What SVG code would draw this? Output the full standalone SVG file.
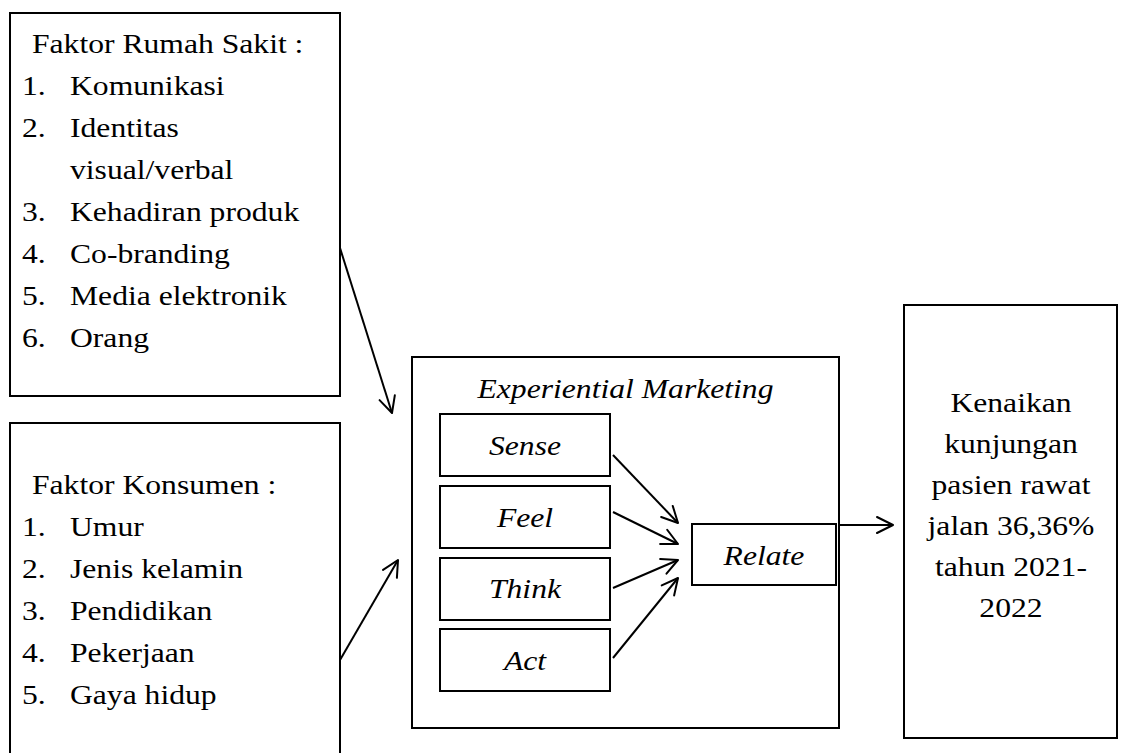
<svg xmlns="http://www.w3.org/2000/svg" width="1122" height="753" viewBox="0 0 1122 753">
<style>
.box{fill:#fff;stroke:#000;stroke-width:2}
.t{font-family:"Liberation Serif","Times New Roman",serif;font-size:28px;fill:#000}
.i{font-style:italic}
.m{text-anchor:middle}
.c{fill:none;stroke:#000;stroke-width:2;marker-end:url(#ah)}
</style>
<defs>
<marker id="ah" markerUnits="userSpaceOnUse" markerWidth="20" markerHeight="20" viewBox="0 0 20 20" refX="18" refY="10" orient="auto">
<path d="M2,2 L18,10 L2,18" fill="none" stroke="#000" stroke-width="2" stroke-linejoin="round" stroke-linecap="round"/>
</marker>
</defs>
<rect width="1122" height="753" fill="#fff"/>
<g id="faktor-rumah-sakit">
<rect class="box" x="10" y="13" width="330" height="383"/>
<g transform="scale(1.13,1)">
<text class="t" x="28.32" y="53">Faktor Rumah Sakit :</text>
<text class="t" x="19.47" y="95">1.</text><text class="t" x="61.95" y="95">Komunikasi</text>
<text class="t" x="19.47" y="137">2.</text><text class="t" x="61.95" y="137">Identitas</text>
<text class="t" x="61.95" y="179">visual/verbal</text>
<text class="t" x="19.47" y="221">3.</text><text class="t" x="61.95" y="221">Kehadiran produk</text>
<text class="t" x="19.47" y="263">4.</text><text class="t" x="61.95" y="263">Co-branding</text>
<text class="t" x="19.47" y="305">5.</text><text class="t" x="61.95" y="305">Media elektronik</text>
<text class="t" x="19.47" y="347">6.</text><text class="t" x="61.95" y="347">Orang</text>
</g>
</g>
<g id="faktor-konsumen">
<rect class="box" x="10" y="423" width="330" height="340"/>
<g transform="scale(1.13,1)">
<text class="t" x="28.32" y="494">Faktor Konsumen :</text>
<text class="t" x="19.47" y="536">1.</text><text class="t" x="61.95" y="536">Umur</text>
<text class="t" x="19.47" y="578">2.</text><text class="t" x="61.95" y="578">Jenis kelamin</text>
<text class="t" x="19.47" y="620">3.</text><text class="t" x="61.95" y="620">Pendidikan</text>
<text class="t" x="19.47" y="662">4.</text><text class="t" x="61.95" y="662">Pekerjaan</text>
<text class="t" x="19.47" y="704">5.</text><text class="t" x="61.95" y="704">Gaya hidup</text>
</g>
</g>
<g id="experiential-marketing">
<rect class="box" x="412" y="357" width="427" height="371"/>
<g transform="scale(1.13,1)"><text class="t i m" x="553.54" y="398">Experiential Marketing</text></g>
</g>
<g id="sense">
<rect class="box" x="440" y="414" width="170" height="62"/>
<g transform="scale(1.13,1)"><text class="t i m" x="464.6" y="455">Sense</text></g>
</g>
<g id="feel">
<rect class="box" x="440" y="486" width="170" height="62"/>
<g transform="scale(1.13,1)"><text class="t i m" x="464.6" y="527">Feel</text></g>
</g>
<g id="think">
<rect class="box" x="440" y="558" width="170" height="62"/>
<g transform="scale(1.13,1)"><text class="t i m" x="464.6" y="598">Think</text></g>
</g>
<g id="act">
<rect class="box" x="440" y="629" width="170" height="62"/>
<g transform="scale(1.13,1)"><text class="t i m" x="464.6" y="670">Act</text></g>
</g>
<g id="relate">
<rect class="box" x="692" y="524" width="144" height="61"/>
<g transform="scale(1.13,1)"><text class="t i m" x="676.11" y="565">Relate</text></g>
</g>
<g id="kenaikan">
<rect class="box" x="904" y="305" width="213" height="433"/>
<g transform="scale(1.13,1)">
<text class="t m" x="894.69" y="412">Kenaikan</text>
<text class="t m" x="894.69" y="453">kunjungan</text>
<text class="t m" x="894.69" y="494">pasien rawat</text>
<text class="t m" x="894.69" y="535">jalan 36,36%</text>
<text class="t m" x="894.69" y="576">tahun 2021-</text>
<text class="t m" x="894.69" y="617">2022</text>
</g>
</g>
<g id="connectors">
<line class="c" x1="340" y1="248" x2="392" y2="413"/>
<line class="c" x1="340" y1="660" x2="398" y2="560"/>
<line class="c" x1="613" y1="455" x2="678" y2="523"/>
<line class="c" x1="613" y1="512" x2="678" y2="544"/>
<line class="c" x1="613" y1="588" x2="678" y2="560"/>
<line class="c" x1="613" y1="658" x2="678" y2="578"/>
<line class="c" x1="839" y1="525" x2="893" y2="525"/>
</g>
</svg>
